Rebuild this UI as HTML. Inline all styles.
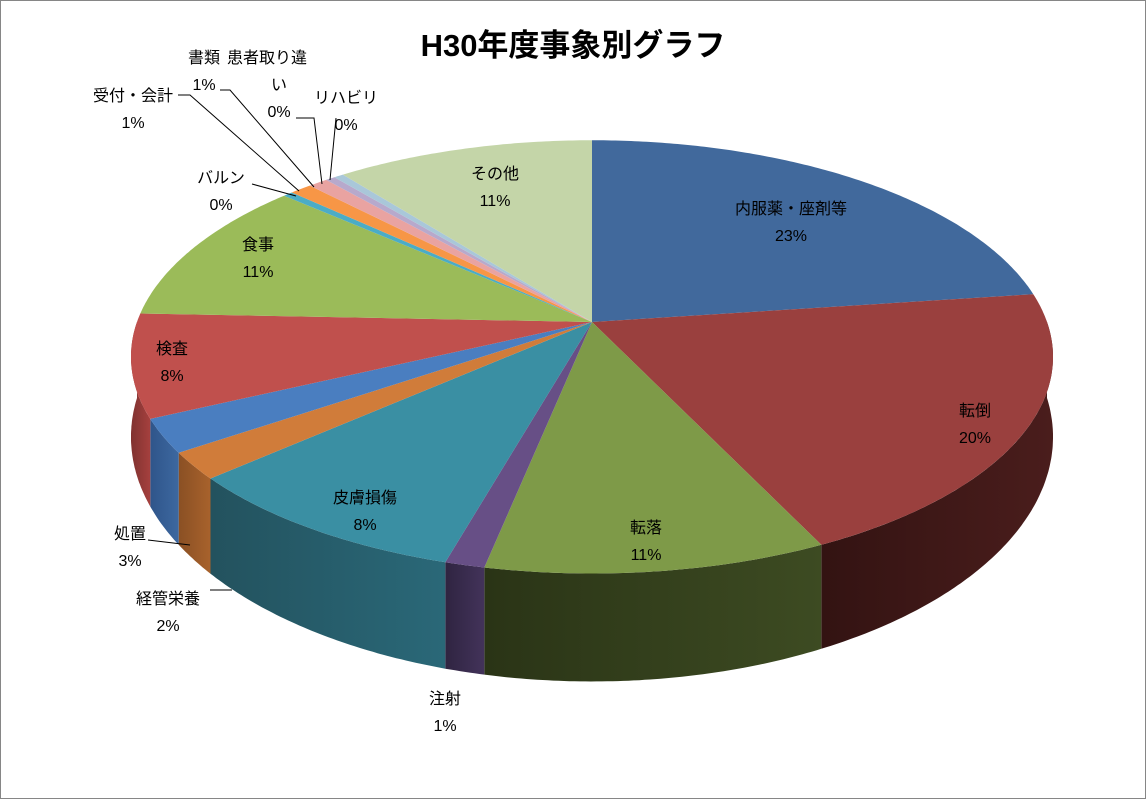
<!DOCTYPE html>
<html><head><meta charset="utf-8"><style>
body{margin:0;background:#fff}
svg{display:block}
text{font-family:"Liberation Sans","Noto Sans CJK JP",sans-serif;font-size:16px;fill:#000}
</style></head><body>
<svg id="c" width="1146" height="799">
<rect x="0.5" y="0.5" width="1145" height="798" fill="#fff" stroke="#868686"/>
<text x="573" y="56" text-anchor="middle" style="font-size:31px;font-weight:bold">H30年度事象別グラフ</text>
<g id="sides"></g><g id="tops"></g><g id="leaders" stroke="#000" stroke-width="1" fill="none"></g><g id="labels"></g>
</svg>
<script>
const categories=["内服薬・座剤等","転倒","転落","注射","皮膚損傷","経管栄養","処置","検査","食事","バルン","受付・会計","書類","患者取り違い","リハビリ","その他"];
const values=[22.9,20.1,10.3,1.2,9.1,2.0,2.5,7.7,10.9,0.4,0.9,0.8,0.4,0.4,10.6];
const pctLabels=["23%","20%","11%","1%","8%","2%","3%","8%","11%","0%","1%","1%","0%","0%","11%"];
const topColors=["#41699c","#9a403e","#7e9a48","#674f86","#3a8fa3","#d07c3a","#4a7ec0","#c0504d","#9bbb59","#4bacc6","#f79646","#e9a3a1","#b7a9cc","#a9c7d9","#c4d5a8"];
const sideColors=["#2f4d73","#4a1d1c","#3d4b22","#43335a","#2a6878","#a8622c","#3d68a0","#a5403e","#7a9445","#3a8a9e","#c77736","#c08683","#928aa5","#88a2b0","#9fae88"];
const sideDark=["#22385a","#331312","#2a3416","#2f2441","#23525e","#8a5024","#2f558a","#803230","#5f7436","#2d6e7e","#a0602a","#9c6b69","#766f86","#6d8390","#808c6e"];
const labelPos=[[791,208],[975,410],[646,527],[445,698],[365,497],[168,598],[130,533],[172,348],[258,244],[221,177],[133,95],[204,57],[267,57],[346,97],[495,173]];
const leaderLines=[null,null,null,null,null,[[210,590],[232,590]],[[148,540],[190,545]],null,null,[[252,184],[296,196]],[[178,95],[190,95],[299,191]],[[220,90],[230,90],[314,187]],[[296,118],[314,118],[322,184]],[[336,118],[330,180]],null];
const CX=592,CY=322,RX=455,RY=211,E=0.161,DEPTH=76;
const NS="http://www.w3.org/2000/svg";
function pt(t,down){const u=-Math.cos(t),s=1/(1-E*u);const x=CX+RX*Math.sin(t)*s,y=CY+RY*u*s+(down?DEPTH*s*s:0);return [x,y];}
function arc(a,b,down){const pts=[];const n=Math.max(2,Math.ceil((b-a)/0.01));for(let i=0;i<=n;i++)pts.push(pt(a+(b-a)*i/n,down));return pts;}
const total=values.reduce((a,b)=>a+b,0);
const sides=document.getElementById('sides'),tops=document.getElementById('tops'),leaders=document.getElementById('leaders'),labels=document.getElementById('labels');
const defs=document.createElementNS(NS,'defs');document.getElementById('c').prepend(defs);
let acc=0;
values.forEach((v,i)=>{
  const a=acc/total*2*Math.PI;acc+=v;const b=acc/total*2*Math.PI;
  const sa=Math.max(a,Math.PI/2),sb=Math.min(b,3*Math.PI/2);
  if(sb>sa){
    const g=document.createElementNS(NS,'linearGradient');g.id='g'+i;g.setAttribute('x1','0');g.setAttribute('x2','1');
    const p0=pt(sa,false),p1=pt(sb,false);const light=p0[0]<p1[0];
    g.innerHTML='<stop offset="0" stop-color="'+(light?sideColors[i]:sideDark[i])+'"/><stop offset="1" stop-color="'+(light?sideDark[i]:sideColors[i])+'"/>';
    defs.appendChild(g);
    const t=arc(sa,sb,false),d=arc(sa,sb,true).reverse();
    const p=document.createElementNS(NS,'path');
    p.setAttribute('d','M'+t.concat(d).map(q=>q[0].toFixed(1)+','+q[1].toFixed(1)).join('L')+'Z');
    p.setAttribute('fill','url(#g'+i+')');
    
    
    sides.appendChild(p);
  }
  const t=arc(a,b,false);
  const p=document.createElementNS(NS,'path');
  p.setAttribute('d','M'+CX+','+CY+'L'+t.map(q=>q[0].toFixed(1)+','+q[1].toFixed(1)).join('L')+'Z');
  p.setAttribute('fill',topColors[i]);
  
  
  tops.appendChild(p);
  if(leaderLines[i]){
    const l=document.createElementNS(NS,'polyline');
    l.setAttribute('points',leaderLines[i].map(q=>q.join(',')).join(' '));
    
    
    leaders.appendChild(l);
  }
  const [lx,ly]=labelPos[i];
  const tx=document.createElementNS(NS,'text');
  tx.setAttribute('text-anchor','middle');
  
  
  let lines=[categories[i],pctLabels[i]];
  if(categories[i]==="患者取り違い")lines=["患者取り違","い",pctLabels[i]];
  lines.forEach((s,k)=>{const ts=document.createElementNS(NS,'tspan');ts.setAttribute('x',k===0?lx:(lines.length===3?lx+12:lx));ts.setAttribute('y',ly+6+k*27);ts.textContent=s;tx.appendChild(ts);});
  labels.appendChild(tx);
});
</script>
</body></html>
